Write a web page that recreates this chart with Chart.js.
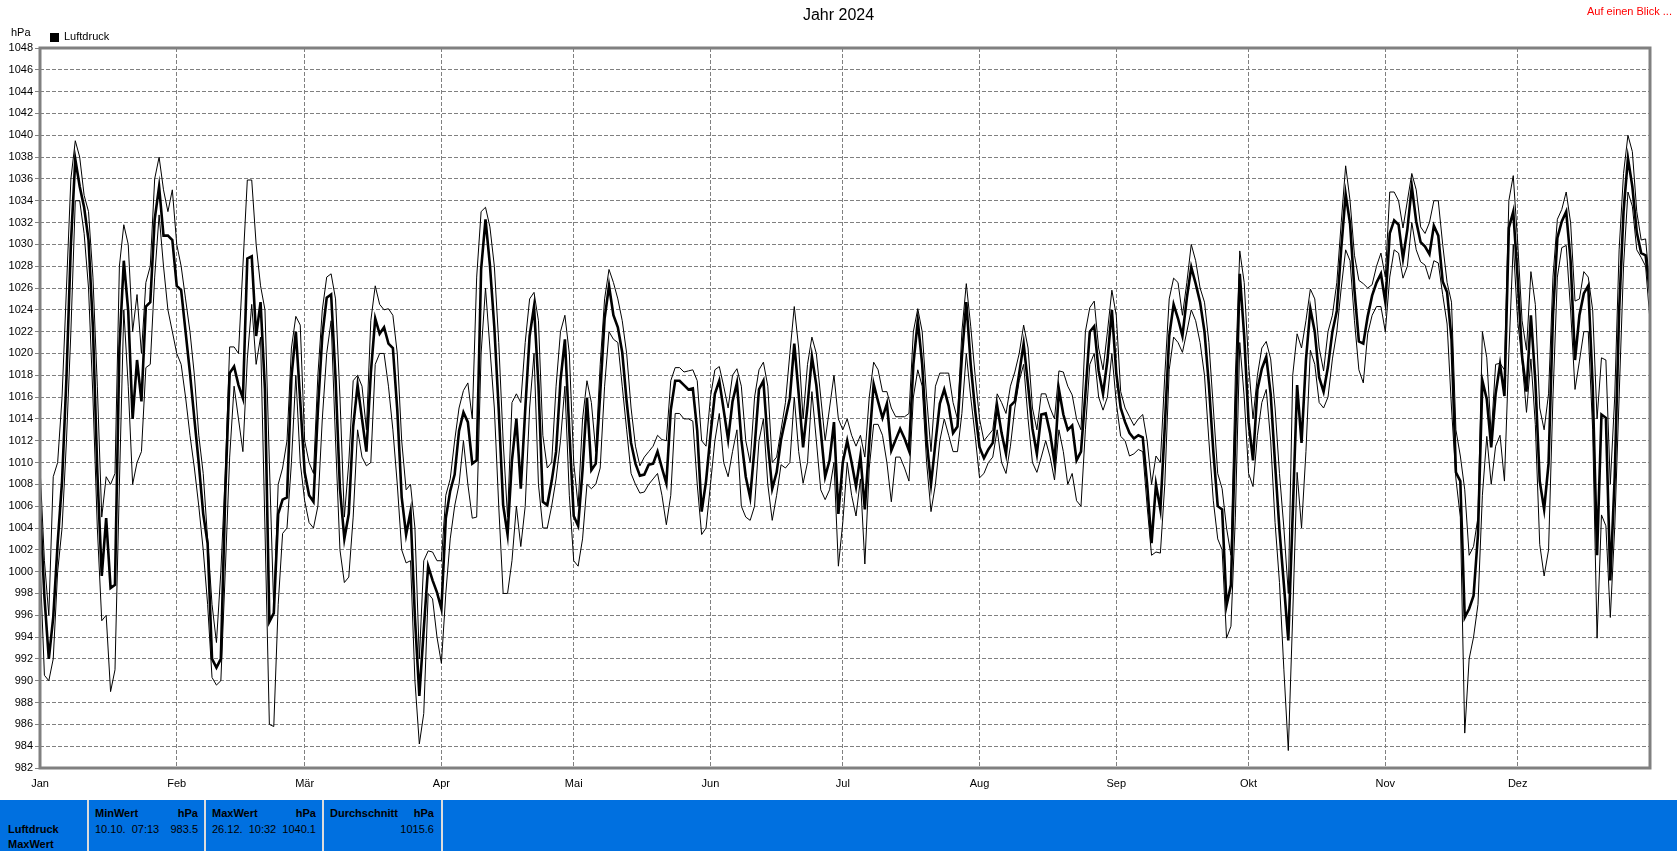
<!DOCTYPE html>
<html>
<head>
<meta charset="utf-8">
<script src="https://cdn.jsdelivr.net/npm/chart.js@4.4.1/dist/chart.umd.min.js"></script>
<style>
  html, body { margin: 0; padding: 0; background: #fff; }
  body { width: 1677px; height: 851px; position: relative; overflow: hidden;
         font-family: 'Liberation Sans', Arial, sans-serif; font-size: 11px; color: #000; }
  #wrap { position: absolute; left: 0; top: 0; width: 1677px; height: 800px; }
  .t { position: absolute; white-space: pre; line-height: 13px; }
  .b { font-weight: bold; }
  #tbl { position: absolute; left: 0; top: 800px; width: 1677px; height: 51px; background: #0070e0; overflow: hidden; }
  .sep { position: absolute; top: 0; width: 2px; height: 51px; background: #dcdcdc; }
</style>
</head>
<body>
<div id="wrap"><canvas id="chart"></canvas></div>

<div class="t" style="left:0;width:1677px;text-align:center;top:6px;font-size:16px;line-height:18px">Jahr 2024</div>
<div class="t" style="right:5px;top:5px;color:#ff0000">Auf einen Blick ...</div>
<div class="t" style="left:11px;top:26px">hPa</div>
<div style="position:absolute;left:50px;top:33px;width:9px;height:9px;background:#000"></div>
<div class="t" style="left:64px;top:30px">Luftdruck</div>

<div id="tbl">
  <div class="sep" style="left:87px"></div>
  <div class="sep" style="left:204px"></div>
  <div class="sep" style="left:322px"></div>
  <div class="sep" style="left:441px"></div>
  <div class="t b" style="left:8px;top:23px">Luftdruck</div>
  <div class="t b" style="left:8px;top:38px">MaxWert</div>

  <div class="t b" style="left:95px;top:7px">MinWert</div>
  <div class="t b" style="right:1479px;top:7px">hPa</div>
  <div class="t" style="left:95px;top:23px">10.10.  07:13</div>
  <div class="t" style="right:1479px;top:23px">983.5</div>

  <div class="t b" style="left:212px;top:7px">MaxWert</div>
  <div class="t b" style="right:1361px;top:7px">hPa</div>
  <div class="t" style="left:212px;top:23px">26.12.  10:32</div>
  <div class="t" style="right:1361px;top:23px">1040.1</div>

  <div class="t b" style="left:330px;top:7px">Durchschnitt</div>
  <div class="t b" style="right:1243px;top:7px">hPa</div>
  <div class="t" style="right:1243px;top:23px">1015.6</div>
</div>

<script>
// year 2024, x = day of year (0 = 1 Jan), one value per day
var MONTH_DAYS   = [0, 31, 60, 91, 121, 152, 182, 213, 244, 274, 305, 335];
var MONTH_LABELS = ['Jan', 'Feb', 'Mär', 'Apr', 'Mai', 'Jun', 'Jul', 'Aug', 'Sep', 'Okt', 'Nov', 'Dez'];
var Y_MIN = 982, Y_MAX = 1048, Y_STEP = 2;

// daily mean pressure (thick line), hPa
var MEAN = [
  1006, 997.7, 992.0, 995.8, 1002.6, 1008.3, 1017.8, 1030, 1037.8, 1035.3,
  1033.4, 1030.4, 1022.4, 1009.1, 999.6, 1004.9, 998.5, 998.8, 1020.5, 1028.5,
  1023.9, 1014, 1019.4, 1015.6, 1024.3, 1024.7, 1032.3, 1035.3, 1030.8, 1030.8,
  1030.4, 1026.2, 1025.8, 1022, 1018.2, 1014, 1009.9, 1005.3, 1002.6, 992,
  991.2, 992, 1007.2, 1018.2, 1018.8, 1017.1, 1015.9, 1028.7, 1028.9, 1021.6,
  1024.7, 1016.7, 995.4, 996.2, 1005.3, 1006.6, 1006.8, 1017.8, 1022, 1015.6,
  1009.1, 1007, 1006.4, 1014.8, 1021.6, 1025.1, 1025.4, 1017.8, 1007.6, 1003,
  1005.3, 1013.3, 1017.1, 1014, 1011, 1018.2, 1023.2, 1021.8, 1022.4, 1020.9,
  1020.5, 1014.8, 1006.8, 1003.4, 1005.5, 995.8, 988.6, 994.7, 1000.5, 999.2,
  998.1, 996.6, 1004.9, 1007.4, 1008.9, 1012.9, 1014.6, 1013.7, 1009.9, 1010.2,
  1027.7, 1032.3, 1028.1, 1022.4, 1014.8, 1006.1, 1003.4, 1010.2, 1014, 1007.6,
  1014.8, 1021.6, 1024.3, 1017.1, 1006.4, 1006.1, 1008.3, 1011, 1017.5, 1021.3,
  1012.9, 1005.1, 1004.2, 1009.3, 1015.9, 1009.3, 1009.9, 1016.3, 1023.2, 1026.2,
  1023.5, 1022.4, 1020.1, 1015.6, 1011.8, 1009.9, 1008.8, 1008.9, 1009.8, 1009.9,
  1011, 1009.5, 1008.1, 1014.8, 1017.5, 1017.5, 1017.1, 1016.7, 1016.8, 1012.9,
  1005.5, 1008.3, 1012.5, 1016.3, 1017.5, 1014.8, 1012.1, 1015.6, 1017.3, 1012.1,
  1008.7, 1006.8, 1011.4, 1016.7, 1017.5, 1011.8, 1007.6, 1009.1, 1012.1, 1014,
  1015.9, 1020.9, 1016.3, 1011.4, 1015.2, 1019.7, 1017.1, 1012.9, 1008.7, 1010.2,
  1013.7, 1005.3, 1010, 1012, 1010, 1007.8, 1010.6, 1005.7, 1011.8, 1017.2,
  1015.6, 1014.1, 1015.4, 1011.1, 1012.1, 1013.1, 1012.2, 1011.1, 1019, 1023,
  1019, 1012.1, 1008, 1011.8, 1015.4, 1016.7, 1015.2, 1012.7, 1013.3, 1019.7,
  1024.7, 1019, 1014.8, 1011.4, 1010.4, 1011.2, 1011.8, 1015.2, 1012.7, 1010.8,
  1015.2, 1015.6, 1018.2, 1020.9, 1017.1, 1013.1, 1010.8, 1014.4, 1014.5, 1012.7,
  1010, 1016.7, 1014.4, 1013, 1013.4, 1010.2, 1011, 1016.3, 1022, 1022.5,
  1018.4, 1016.3, 1019.4, 1024, 1018.2, 1015, 1013.7, 1012.7, 1012.2, 1012.5,
  1012.3, 1008, 1002.6, 1008, 1005.7, 1013.3, 1021.6, 1024.5, 1023.2, 1021.6,
  1025.1, 1027.9, 1026.4, 1024.7, 1022, 1017.1, 1011, 1006, 1005.7, 996.9,
  998.8, 1012.9, 1027.3, 1021.6, 1013.7, 1010.2, 1016.7, 1018.6, 1019.7, 1016.3,
  1009.9, 1003.8, 998.8, 993.7, 1005.3, 1017.1, 1011.8, 1019.4, 1024.1, 1022,
  1017.8, 1016.5, 1018.8, 1022, 1023.9, 1029.6, 1034.6, 1031.9, 1025.8, 1021.1,
  1020.9, 1023.4, 1025.3, 1026.5, 1027.3, 1024.7, 1031, 1032.2, 1031.8, 1028.7,
  1031.4, 1035.3, 1032.1, 1030.2, 1029.8, 1029.1, 1031.7, 1030.8, 1026.6, 1025.6,
  1021.3, 1009.1, 1008.3, 995.8, 996.6, 997.8, 1003.4, 1017.5, 1015.8, 1011.4,
  1016.3, 1019, 1016.1, 1031.5, 1033, 1026.9, 1019.7, 1016.5, 1023.5, 1017.5,
  1008.3, 1005.7, 1009.9, 1023.5, 1030.6, 1032.1, 1033, 1028.5, 1019.4, 1023.5,
  1025.5, 1026.2, 1017.1, 1001.5, 1014.4, 1014.1, 999.2, 1008.7, 1023.9, 1033,
  1037.9, 1035.3, 1031.1, 1029.2, 1029, 1025.5
];

// daily maximum (thin line), hPa
var MAX = [
  1009.6, 1001, 996, 1008.7, 1010, 1016, 1026, 1036, 1039.5, 1038,
  1034.5, 1033, 1027, 1017, 1005, 1008.7, 1008, 1009, 1028, 1031.8,
  1030, 1022, 1025.4, 1020, 1026.5, 1028, 1036, 1038, 1035, 1033,
  1035, 1030, 1028, 1025, 1022, 1018, 1012.5, 1009, 1003, 997,
  993.5, 1000, 1009, 1020.6, 1020.6, 1020, 1028, 1035.9, 1035.9, 1030,
  1026.2, 1024, 1010, 996.5, 1008, 1009.5, 1012, 1020.5, 1023.4, 1022.6,
  1012, 1010, 1009, 1018, 1024, 1027, 1027.3, 1025, 1016, 1005,
  1010, 1017.5, 1018, 1017, 1013, 1023, 1026.2, 1024.5, 1024, 1024.1,
  1023.5, 1020, 1012, 1007.5, 1008, 1004, 992, 1001, 1001.9, 1001.8,
  1001, 1001, 1007, 1008.5, 1012, 1015, 1016.6, 1017.3, 1014, 1027,
  1033, 1033.4, 1031.6, 1028, 1021, 1012, 1005, 1015.5, 1016.3, 1015.5,
  1021, 1025, 1025.6, 1023, 1012.5, 1009.5, 1010, 1017, 1022, 1023.5,
  1020, 1010, 1006, 1014, 1017.5, 1015.5, 1011, 1019, 1025, 1027.7,
  1026.5, 1025, 1023, 1020, 1015, 1011.5, 1009.7, 1010.5, 1011, 1011.5,
  1012.5, 1012.1, 1012, 1017.5, 1018.7, 1018.7, 1018.3, 1018.4, 1018.5, 1017.5,
  1012, 1011.5, 1016, 1018.5, 1018.8, 1017, 1015, 1018, 1018.6, 1017,
  1012, 1010, 1016, 1018.5, 1019.2, 1017, 1010, 1010.5, 1013, 1015.5,
  1020, 1024.3, 1020.5, 1014, 1019, 1021.5, 1020, 1016, 1012, 1015,
  1018, 1014, 1013, 1014, 1012.5, 1011.5, 1012.5, 1010.5, 1016, 1019.2,
  1018.5, 1016.5, 1016.5, 1015, 1014.2, 1014.2, 1014.2, 1014.5, 1022, 1024.1,
  1022, 1016, 1011, 1017, 1018.2, 1018.2, 1018.2, 1015.5, 1014, 1022,
  1026.4, 1022.5, 1018, 1014, 1012, 1012.5, 1013, 1016.3, 1015.5, 1014.5,
  1017, 1018.3, 1020, 1022.6, 1020.5, 1015, 1013, 1016.3, 1016.3, 1015,
  1014, 1018.4, 1018.3, 1017, 1016.2, 1014, 1013, 1022, 1024.2, 1024.8,
  1020.5, 1018.5, 1022, 1025.8, 1023.5, 1016.5, 1015, 1014.2, 1013.4, 1014,
  1014.4, 1012, 1008, 1010.6, 1010, 1018, 1025, 1026.9, 1026.5, 1023.5,
  1026.5, 1030, 1028.5, 1026, 1024.7, 1021, 1015, 1009, 1007.6, 1004,
  1001.5, 1018, 1029.4, 1026.5, 1019, 1014, 1018, 1020.5, 1021.1, 1019.5,
  1015, 1009, 1004, 998, 1018, 1021.8, 1020.5, 1023, 1025.9, 1025,
  1020.5, 1018.4, 1022, 1023.5, 1026.5, 1032, 1037.2, 1034, 1029, 1026.7,
  1026.4, 1026, 1026.3, 1028, 1029.2, 1027, 1034.8, 1034.8, 1034, 1031.5,
  1034, 1036.5, 1035, 1031.6, 1031, 1032, 1034, 1034, 1030, 1026.5,
  1024.7, 1013, 1010.6, 1007.5, 1001.5, 1002.3, 1005, 1022, 1019.6, 1012.5,
  1019, 1019.1, 1018.5, 1034, 1036.3, 1030.2, 1023, 1020.3, 1027.5, 1024.5,
  1015, 1013, 1016.3, 1027, 1032.3, 1033.2, 1034.8, 1032, 1024.8, 1025,
  1027.5, 1027, 1024, 1014, 1019.6, 1019.4, 1008, 1016, 1029.5, 1036.5,
  1040, 1038.5, 1033, 1030.4, 1030.5, 1026
];

// daily minimum (thin line), hPa
var MIN = [
  1001, 990.5, 990, 992, 1000, 1004, 1012, 1022, 1034, 1034,
  1031, 1026, 1016, 1004, 995.5, 996, 989, 991, 1008, 1024,
  1017, 1008, 1010, 1011, 1018.7, 1019, 1027, 1032.7, 1028, 1024,
  1022, 1020, 1019, 1016, 1012.5, 1009.5, 1006, 1002, 997, 990.3,
  989.6, 990, 1000, 1010.5, 1017, 1014, 1011, 1019.5, 1024.5, 1019,
  1021.5, 1004, 986, 985.8, 997, 1003.5, 1004, 1010, 1018, 1010,
  1006.5, 1004.5, 1004, 1006, 1014, 1020, 1023, 1012, 1002, 999,
  999.5, 1005, 1013, 1010.5, 1009.7, 1010, 1019, 1020, 1020, 1017,
  1013, 1008, 1002, 1000.8, 1001, 990, 984.2, 987, 998, 997.5,
  994, 991.6, 998, 1003, 1006, 1008, 1012, 1008, 1004.9, 1005,
  1020, 1026, 1020.5, 1015, 1006, 998, 998, 1001, 1006, 1002.3,
  1006, 1015, 1020, 1008, 1004, 1004, 1006, 1008.5, 1012, 1017,
  1007, 1001, 1000.5, 1003, 1008, 1007.6, 1008, 1009.5, 1017, 1022,
  1021.3, 1021, 1017, 1013, 1009, 1008, 1007.2, 1007.3, 1008, 1008.5,
  1009, 1007, 1004.3, 1007, 1014.5, 1014.5, 1014, 1014, 1013.8, 1008,
  1003.4, 1004, 1008, 1012, 1014.5, 1010, 1008.7, 1011, 1013, 1006,
  1005, 1004.7, 1006, 1012, 1014, 1008, 1004.7, 1007, 1009.8, 1009.5,
  1010, 1016, 1011, 1008.1, 1010, 1016.5, 1012, 1007.5, 1006.6, 1007.5,
  1010, 1000.5, 1004.5, 1010, 1007, 1005.1, 1008.5, 1000.7, 1009.5, 1013.5,
  1013.5, 1012.5, 1010, 1006.4, 1010.5, 1010.5, 1009.5, 1008.3, 1016, 1018.5,
  1017, 1010, 1005.5, 1008, 1012, 1014, 1012.5, 1011, 1011, 1014.5,
  1020, 1016, 1012.5, 1008.6, 1009, 1010, 1010.5, 1013, 1010, 1009,
  1011.5, 1015, 1017.5, 1019, 1014, 1010, 1009.1, 1010.5, 1012, 1010.5,
  1008.4, 1013, 1011, 1008, 1009, 1006.5, 1006, 1013, 1019, 1020,
  1016, 1014.8, 1016, 1020, 1015.5, 1012.4, 1012, 1010.6, 1010.8, 1011.2,
  1011, 1006, 1001.5, 1001.8, 1001.7, 1008, 1018.5, 1021.5, 1021, 1020.1,
  1022, 1024, 1023, 1021, 1018, 1012, 1006.5, 1003, 1002, 993.9,
  995, 1005, 1021, 1016, 1009, 1007.8, 1012.5, 1015.5, 1016.7, 1012,
  1004.5, 999, 991, 983.6, 996, 1009.1, 1004, 1011, 1020.3, 1019,
  1015.5, 1015, 1016, 1019.5, 1022, 1026, 1029.5, 1028.5, 1023, 1018.5,
  1017.3, 1021.8, 1023.5, 1024.3, 1024.3, 1022, 1027, 1029.5, 1029.2, 1026.9,
  1028, 1032, 1029.5, 1028.4, 1028.1, 1026.8, 1028.5, 1028.3, 1025.4, 1022.7,
  1015, 1008.5, 1005, 985.2, 992, 994, 997, 1007, 1012.4, 1008,
  1011.5, 1012.5, 1008.3, 1020, 1030, 1023, 1019.3, 1014.6, 1019.5, 1013.5,
  1002.5, 999.6, 1002, 1016, 1027, 1029.7, 1029.9, 1024, 1016.7, 1019.3,
  1022, 1022, 1013, 993.9, 1005.2, 1004.2, 995.8, 1004, 1016, 1028,
  1034.8, 1033.5, 1029.5, 1028.8, 1028, 1023
];

(function () {
  var GRID = '#808080', FONT = { family: "'Liberation Sans', Arial, sans-serif", size: 11 };

  function pts(arr) { return arr.map(function (v, i) { return { x: i, y: v }; }); }

  var frame = {   // grey box round the plot area
    id: 'frame',
    afterDraw: function (c) {
      var a = c.chartArea, ctx = c.ctx;
      ctx.save();
      ctx.strokeStyle = GRID; ctx.lineWidth = 3;
      ctx.strokeRect(a.left, a.top, a.right - a.left, a.bottom - a.top);
      ctx.restore();
    }
  };

  new Chart(document.getElementById('chart').getContext('2d'), {
    type: 'line',
    data: {
      datasets: [
        { label: 'Luftdruck', data: pts(MEAN), borderColor: '#000', borderWidth: 2.6, pointRadius: 0, tension: 0, fill: false },
        { label: 'Max', data: pts(MAX), borderColor: '#000', borderWidth: 1, pointRadius: 0, tension: 0, fill: false },
        { label: 'Min', data: pts(MIN), borderColor: '#000', borderWidth: 1, pointRadius: 0, tension: 0, fill: false }
      ]
    },
    options: {
      responsive: true, maintainAspectRatio: false, animation: false,
      layout: { padding: { top: 48, right: 27, left: 0, bottom: 0 } },
      plugins: { legend: { display: false }, title: { display: false }, tooltip: { enabled: false } },
      scales: {
        x: {
          type: 'linear', min: 0, max: 365,
          afterBuildTicks: function (s) { s.ticks = MONTH_DAYS.map(function (d) { return { value: d }; }); },
          afterFit: function (s) { s.height = 32; },
          grid: { color: GRID, lineWidth: 1, drawTicks: false },
          border: { display: false, dash: [4, 2] },
          ticks: { autoSkip: false, maxRotation: 0, padding: 9, color: '#000', font: FONT,
            callback: function (v) { var i = MONTH_DAYS.indexOf(v); return i < 0 ? '' : MONTH_LABELS[i]; } }
        },
        y: {
          type: 'linear', min: Y_MIN, max: Y_MAX,
          afterFit: function (s) { s.width = 40; },
          grid: { color: GRID, lineWidth: 1, tickLength: 5, tickColor: GRID },
          border: { display: false, dash: [4, 2] },
          ticks: { stepSize: Y_STEP, autoSkip: false, padding: 2, color: '#000', font: FONT,
            callback: function (v) { return String(v); } }
        }
      }
    },
    plugins: [frame]
  });
})();
</script>
</body>
</html>
